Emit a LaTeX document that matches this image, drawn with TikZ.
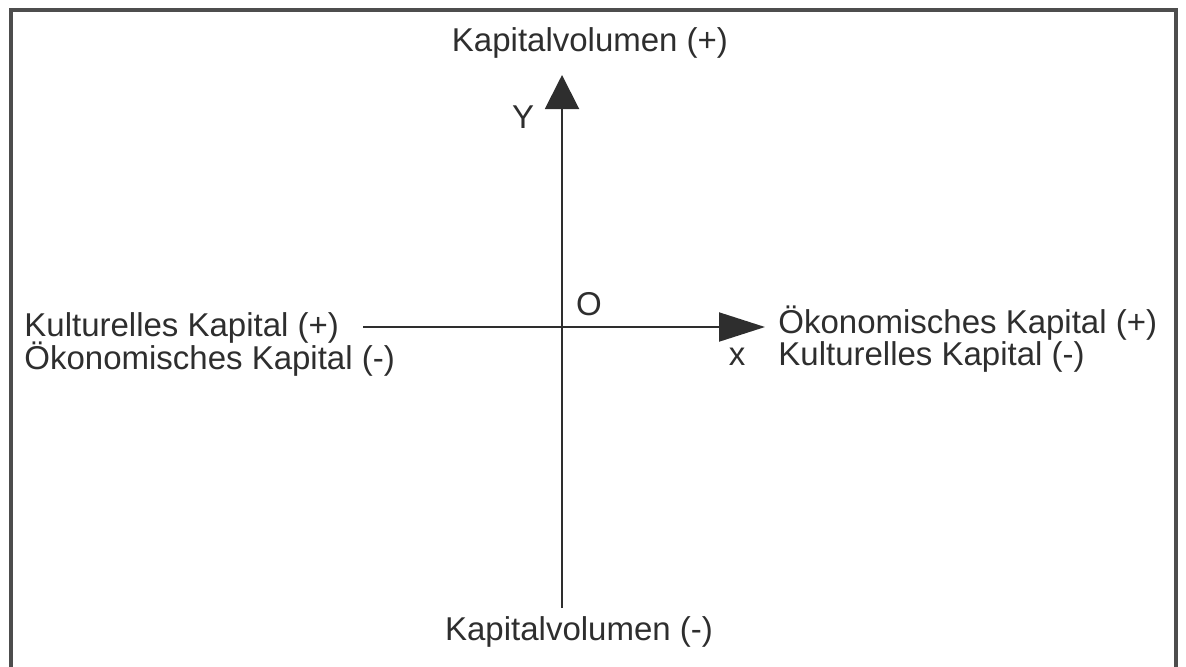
\documentclass[tikz,border=0pt]{standalone}
\usepackage{fontspec}
\setmainfont{Liberation Sans}
\usetikzlibrary{arrows.meta}
\definecolor{ink}{HTML}{2E2E2E}
\tikzset{
  lbl/.style={inner sep=0pt, text=ink, font=\fontsize{16.5}{19}\selectfont},
  axis/.style={draw=ink, line width=1pt},
  frameline/.style={draw=ink!85, line width=1.6pt}
}
\begin{document}
\begin{tikzpicture}[x=0.5pt, y=-0.5pt]
\useasboundingbox (0,0) rectangle (1186,666);
\draw[frameline] (11,670) -- (11,10) -- (1176,10) -- (1176,670);
% axes
\coordinate (ybot) at (562,608);
\coordinate (ytop) at (562,75);
\coordinate (xleft) at (363,327);
\coordinate (xright) at (765,327);
\draw[axis, -{Triangle[length=17pt, width=17pt]}] (ybot) -- (ytop);
\draw[axis, -{Triangle[length=23pt, width=14.5pt]}] (xleft) -- (xright);
% labels
\node[lbl] (top) at (590,43) {Kapitalvolumen (+)};
\node[lbl] (bot) at (579,632) {Kapitalvolumen (-)};
\node[lbl] (Y) at (523,117) {Y};
\node[lbl] (O) at (589,304) {O};
\node[lbl] (x) at (737,357) {x};
\node[lbl, anchor=base west] (left1) at (24,336) {Kulturelles Kapital (+)};
\node[lbl, anchor=base west] (left2) at (24,369) {Ökonomisches Kapital (-)};
\node[lbl, anchor=base west] (right1) at (778,333) {Ökonomisches Kapital (+)};
\node[lbl, anchor=base west] (right2) at (778,365) {Kulturelles Kapital (-)};
\end{tikzpicture}
\end{document}
